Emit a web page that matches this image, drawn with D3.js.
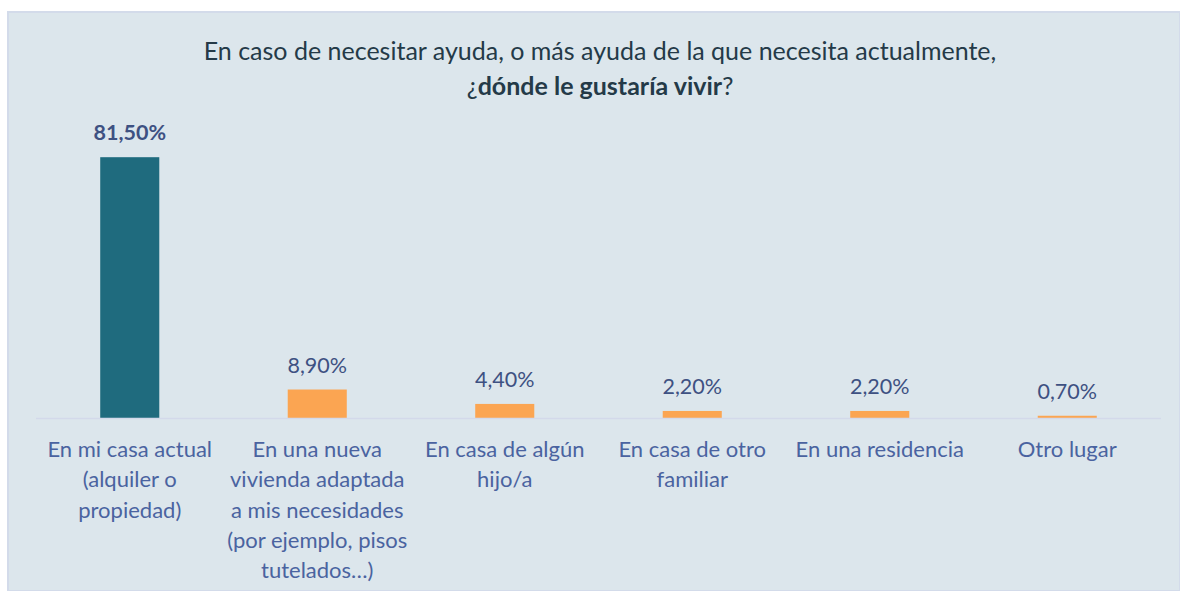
<!DOCTYPE html>
<html>
<head>
<meta charset="utf-8">
<script src="https://cdn.jsdelivr.net/npm/d3@7"></script>
<style>
  body { margin: 0; background: #fff; }
  text { font-family: Lato, "Open Sans", sans-serif; }
</style>
</head>
<body>
<div id="chart"></div>
<script>
// data
const categories = [
  ["En mi casa actual", "(alquiler o", "propiedad)"],
  ["En una nueva", "vivienda adaptada", "a mis necesidades", "(por ejemplo, pisos", "tutelados…)"],
  ["En casa de algún", "hijo/a"],
  ["En casa de otro", "familiar"],
  ["En una residencia"],
  ["Otro lugar"]
];
const values = [81.5, 8.9, 4.4, 2.2, 2.2, 0.7];
const valueLabels = ["81,50%", "8,90%", "4,40%", "2,20%", "2,20%", "0,70%"];

const W = 1180, H = 591;
const margin = { left: 36, right: 19, baseline: 418 };

const svg = d3.select("#chart").append("svg")
  .attr("width", W)
  .attr("height", H);

// chart area background
svg.append("rect")
  .attr("x", 8).attr("y", 12)
  .attr("width", W - 8).attr("height", H - 12)
  .attr("fill", "#dce6ec")
  .attr("stroke", "#d3dbea")
  .attr("stroke-width", 2);

// title
const title = svg.append("text")
  .attr("text-anchor", "middle")
  .attr("fill", "#243a48")
  .attr("font-size", 25);
title.append("tspan").attr("x", 600).attr("y", 60)
  .text("En caso de necesitar ayuda, o más ayuda de la que necesita actualmente,");
const t2 = title.append("tspan").attr("x", 600).attr("y", 95);
t2.append("tspan").text("¿");
t2.append("tspan").attr("font-weight", "bold").text("dónde le gustaría vivir");
t2.append("tspan").text("?");

const x = d3.scaleBand()
  .domain(d3.range(categories.length))
  .range([margin.left, W - margin.right])
  .paddingInner(0.685)
  .paddingOuter(0.3425);

const y = d3.scaleLinear()
  .domain([0, 100])
  .range([margin.baseline, margin.baseline - 320]);

// bars
svg.selectAll("rect.bar")
  .data(values)
  .enter()
  .append("rect")
  .attr("class", "bar")
  .attr("x", (d, i) => x(i))
  .attr("y", d => y(d))
  .attr("width", x.bandwidth())
  .attr("height", d => y(0) - y(d))
  .attr("fill", (d, i) => i === 0 ? "#1f6b7e" : "#fba552");

// baseline
svg.append("line")
  .attr("x1", margin.left).attr("x2", W - margin.right)
  .attr("y1", y(0) + 0.5).attr("y2", y(0) + 0.5)
  .attr("stroke", "#d3d9ea")
  .attr("stroke-width", 1.5);

// value labels
svg.selectAll("text.val")
  .data(values)
  .enter()
  .append("text")
  .attr("class", "val")
  .attr("x", (d, i) => x(i) + x.bandwidth() / 2)
  .attr("y", d => y(d) - 17)
  .attr("text-anchor", "middle")
  .attr("font-size", 21.5)
  .attr("font-weight", (d, i) => i === 0 ? "bold" : "normal")
  .attr("fill", "#3e5182")
  .text((d, i) => valueLabels[i]);

// category labels
const cat = svg.selectAll("text.cat")
  .data(categories)
  .enter()
  .append("text")
  .attr("class", "cat")
  .attr("text-anchor", "middle")
  .attr("font-size", 22)
  .attr("fill", "#4a63a0");
cat.each(function(lines, i) {
  d3.select(this).selectAll("tspan")
    .data(lines)
    .enter()
    .append("tspan")
    .attr("x", x(i) + x.bandwidth() / 2)
    .attr("y", (l, j) => 457 + j * 30.3)
    .text(l => l);
});
</script>
</body>
</html>
